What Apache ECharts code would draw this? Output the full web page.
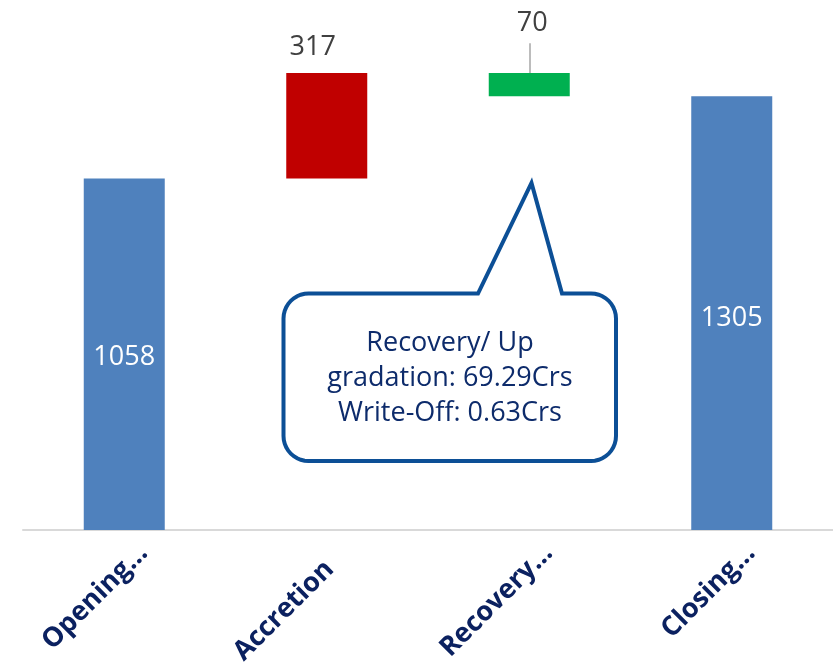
<!DOCTYPE html>
<html>
<head>
<meta charset="utf-8">
<script src="https://cdn.jsdelivr.net/npm/echarts@6/dist/echarts.min.js"></script>
<style>
  html, body { margin: 0; padding: 0; background: #ffffff; }
  #chart { width: 833px; height: 668px; }
</style>
</head>
<body>
<div id="chart"></div>
<script>
// Waterfall: opening balance, movements, closing balance
const categories = ['Opening…', 'Accretion', 'Recovery…', 'Closing…'];
const values = [1058, 317, 70, 1305];
const kinds = ['total', 'increase', 'decrease', 'total'];
const barColors = { total: '#4f81bd', increase: '#c00000', decrease: '#00b050' };
const calloutLines = ['Recovery/ Up', 'gradation: 69.29Crs', 'Write-Off: 0.63Crs'];

// Invisible base of each floating bar, from the running total
const bases = [];
let running = 0;
values.forEach((v, i) => {
  if (kinds[i] === 'total') { bases.push(0); running = v; }
  else if (kinds[i] === 'increase') { bases.push(running); running += v; }
  else { running -= v; bases.push(running); }
});

const FONT = '"Open Sans", "Noto Sans", sans-serif';

// Speech-bubble outline: rounded box with a pointer on its top edge
function bubblePoints(l, t, r, b, rad, ptrL, ptrR, tip) {
  const pts = [];
  const arc = (cx, cy, a0, a1) => {
    const n = 10;
    for (let k = 0; k <= n; k++) {
      const a = a0 + (a1 - a0) * k / n;
      pts.push([cx + rad * Math.cos(a), cy + rad * Math.sin(a)]);
    }
  };
  arc(l + rad, t + rad, Math.PI, 1.5 * Math.PI);
  pts.push([ptrL, t], tip, [ptrR, t]);
  arc(r - rad, t + rad, 1.5 * Math.PI, 2 * Math.PI);
  arc(r - rad, b - rad, 0, 0.5 * Math.PI);
  arc(l + rad, b - rad, 0.5 * Math.PI, Math.PI);
  return pts;
}

const chart = echarts.init(document.getElementById('chart'), null, { renderer: 'canvas' });

const barData = values.map((v, i) => {
  const item = { value: v, itemStyle: { color: barColors[kinds[i]] } };
  if (kinds[i] === 'total') {
    item.label = { position: 'inside', color: '#ffffff', offset: [0, i === 0 ? 3 : 5] };
  } else if (kinds[i] === 'increase') {
    item.label = { position: 'top', color: '#404040', offset: [-14, -7] };
  } else {
    item.label = { position: 'top', color: '#404040', offset: [3, -31] };
  }
  return item;
});

const axisData = categories.map((c) => {
  const truncated = c.endsWith('…');
  return { value: c, textStyle: { padding: truncated ? [0, -27, 0, 0] : [0, -4, 0, 0] } };
});

chart.setOption({
  animation: false,
  backgroundColor: '#ffffff',
  grid: { left: 23, right: 0, top: 0, bottom: 136, containLabel: false },
  xAxis: {
    type: 'category',
    data: axisData,
    axisLine: { show: true, lineStyle: { color: '#d9d9d9', width: 2 } },
    axisTick: { show: false },
    axisLabel: {
      rotate: 45,
      margin: 38,
      interval: 0,
      color: '#0b2160',
      fontFamily: FONT,
      fontWeight: 'bold',
      fontSize: 27
    }
  },
  yAxis: {
    type: 'value',
    min: 0,
    max: 1595,
    show: false,
    splitLine: { show: false }
  },
  series: [
    {
      name: 'base',
      type: 'bar',
      stack: 'wf',
      silent: true,
      barCategoryGap: '60%',
      itemStyle: { color: 'rgba(0,0,0,0)' },
      data: bases
    },
    {
      name: 'amount',
      type: 'bar',
      stack: 'wf',
      barCategoryGap: '60%',
      label: {
        show: true,
        fontFamily: FONT,
        fontSize: 27
      },
      data: barData
    },
    {
      // leader from the small decrease bar up to its raised label
      name: 'leader',
      type: 'line',
      silent: true,
      symbol: 'none',
      data: [],
      markLine: {
        silent: true,
        symbol: 'none',
        label: { show: false },
        lineStyle: { color: '#a6a6a6', width: 1.5, type: 'solid' },
        data: [[
          { coord: [2, bases[2] + values[2]] },
          { coord: [2, bases[2] + values[2] + 90] }
        ]]
      }
    }
  ],
  graphic: [
    {
      type: 'polygon',
      z: 10,
      shape: { points: bubblePoints(283.5, 293.5, 616, 461, 25, 478, 562, [531.5, 183]) },
      style: { fill: '#ffffff', stroke: '#0c4f96', lineWidth: 4, lineJoin: 'miter' }
    },
    {
      type: 'text',
      z: 11,
      x: 450,
      y: 378,
      style: {
        text: calloutLines.join('\n'),
        font: '27px ' + FONT,
        fill: '#0d2b6b',
        align: 'center',
        verticalAlign: 'middle',
        lineHeight: 35
      }
    }
  ]
});
</script>
</body>
</html>
